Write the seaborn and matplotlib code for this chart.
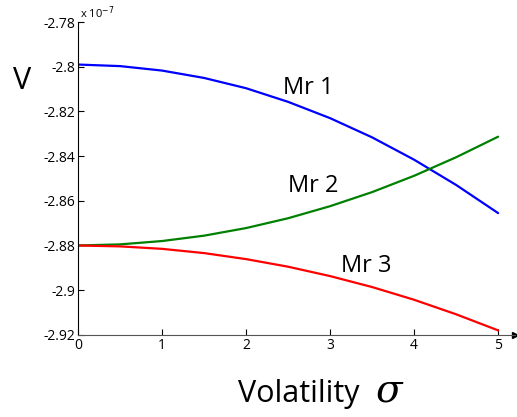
import numpy as np
import pandas as pd
import seaborn as sns
import matplotlib.pyplot as plt
from matplotlib.ticker import FormatStrFormatter

# values (units of 1e-7)
sigma = [0, 0.5, 1, 1.5, 2, 2.5, 3, 3.5, 4, 4.5, 5]
mr1 = [-2.799, -2.7997, -2.8017, -2.805, -2.8096, -2.8157, -2.823, -2.8316, -2.8416, -2.8529, -2.8655]
mr2 = [-2.880, -2.8795, -2.878, -2.8756, -2.8722, -2.8678, -2.8624, -2.8561, -2.8488, -2.8405, -2.8313]
mr3 = [-2.880, -2.8804, -2.8815, -2.8834, -2.8861, -2.8895, -2.8937, -2.8986, -2.9043, -2.9108, -2.918]
series = ['Mr 1', 'Mr 2', 'Mr 3']
y_ticks = [-2.92, -2.9, -2.88, -2.86, -2.84, -2.82, -2.8, -2.78]
x_ticks = [0, 1, 2, 3, 4, 5]

df = pd.DataFrame({
    'sigma': sigma * 3,
    'V': mr1 + mr2 + mr3,
    'series': [s for s in series for _ in sigma]
})

sns.set_style('ticks')
plt.rcParams['font.family'] = ['Open Sans', 'DejaVu Sans']
plt.rcParams['text.color'] = 'black'
plt.rcParams['xtick.color'] = 'black'
plt.rcParams['ytick.color'] = 'black'
plt.rcParams['axes.edgecolor'] = 'black'

fig = plt.figure(figsize=(5.17, 4.17), dpi=100)
ax = fig.add_axes([0.151, 0.197, 0.845, 0.75])

sns.lineplot(
    data=df,
    x='sigma',
    y='V',
    hue='series',
    palette={'Mr 1': '#0000ff', 'Mr 2': '#008000', 'Mr 3': '#ff0000'},
    linewidth=1.6,
    legend=False,
    ax=ax
)

ax.set_xlim(0, 5.2)
ax.set_ylim(-2.92, -2.78)
ax.set_xticks(x_ticks)
ax.set_yticks(y_ticks)
ax.yaxis.set_major_formatter(FormatStrFormatter('%g'))
ax.tick_params(direction='in', length=4, labelsize=10, pad=2)
ax.set_xlabel('')
ax.set_ylabel('')
ax.spines['top'].set_visible(False)
ax.spines['right'].set_visible(False)
ax.spines['bottom'].set_color('#555555')
ax.plot(1, 0, '>', color='black', markersize=4, transform=ax.transAxes, clip_on=False)

# curve labels
ax.text(2.74, -2.8094, 'Mr 1', fontsize=17, ha='center', va='center')
ax.text(2.80, -2.8532, 'Mr 2', fontsize=17, ha='center', va='center')
ax.text(3.43, -2.889, 'Mr 3', fontsize=17, ha='center', va='center')

ax.text(0.005, 1.005, 'x 10$^{-7}$', transform=ax.transAxes, fontsize=8, ha='left', va='bottom')
fig.text(0.043, 0.805, 'V', fontsize=22, ha='center', va='center')
fig.text(0.46, 0.055, 'Volatility', fontsize=22, ha='left', va='center')
fig.text(0.725, 0.062, '$\\sigma$', fontsize=28, ha='left', va='center',
         family='DejaVu Serif', math_fontfamily='dejavuserif')

plt.savefig('out.png', dpi=100)
